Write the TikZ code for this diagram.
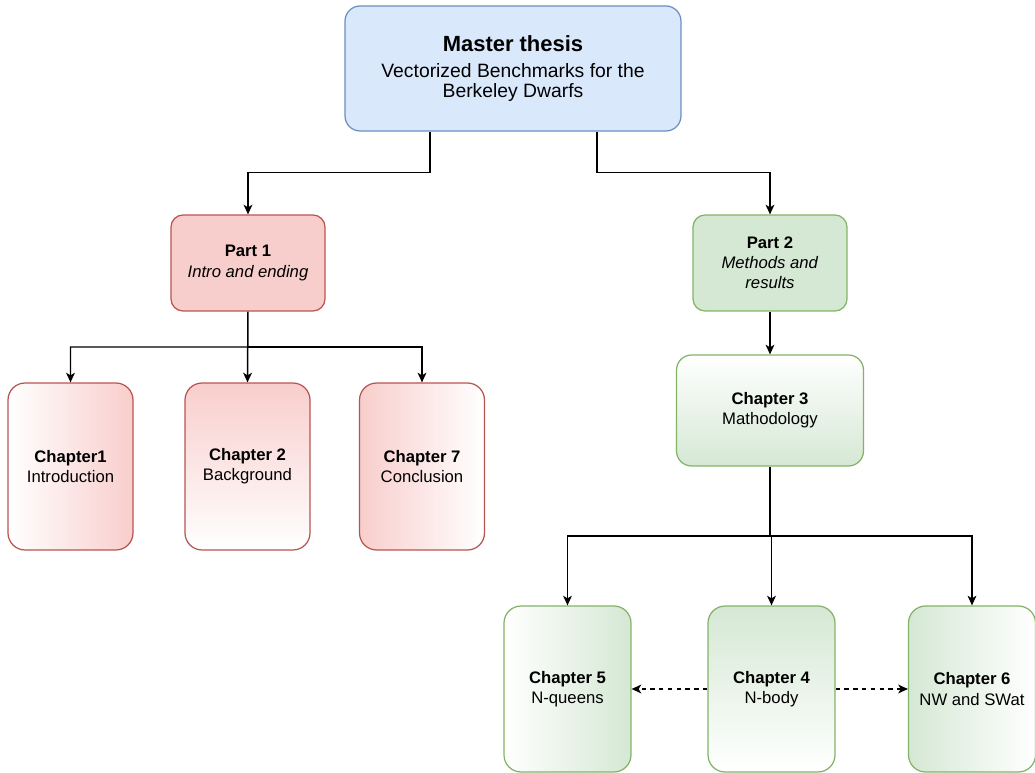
\documentclass[tikz,border=0pt]{standalone}
\usepackage{fontspec}
\setmainfont{Liberation Sans}
\usetikzlibrary{arrows.meta,calc}
\definecolor{bluefill}{HTML}{DAE8FC}
\definecolor{bluedraw}{HTML}{6C8EBF}
\definecolor{redfill}{HTML}{F8CECC}
\definecolor{reddraw}{HTML}{B85450}
\definecolor{greenfill}{HTML}{D5E8D4}
\definecolor{greendraw}{HTML}{82B366}
\tikzset{
  box/.style={rectangle, align=center, line width=0.7pt, inner sep=2pt,
    font=\fontsize{9.5}{11.5}\selectfont},
  masterbox/.style={box, draw=bluedraw, fill=bluefill, rounded corners=0.3cm,
    minimum width=6.72cm, minimum height=2.5cm, font=\fontsize{11}{11.5}\selectfont},
  partred/.style={box, draw=reddraw, fill=redfill, rounded corners=0.24cm,
    minimum width=3.08cm, minimum height=1.92cm},
  partgreen/.style={box, draw=greendraw, fill=greenfill, rounded corners=0.24cm,
    minimum width=3.08cm, minimum height=1.92cm},
  chred/.style={box, draw=reddraw, rounded corners=0.34cm,
    minimum width=2.5cm, minimum height=3.34cm},
  chgreen/.style={box, draw=greendraw, rounded corners=0.34cm,
    minimum width=2.54cm, minimum height=3.32cm},
  arr/.style={line width=0.85pt, -{Stealth[length=5.5pt,width=5pt,inset=1.5pt]}},
  dasharr/.style={arr, dash pattern=on 2.5pt off 2.5pt},
}
\begin{document}
\begin{tikzpicture}[x=0.02cm, y=-0.02cm]
\useasboundingbox (0,0) rectangle (1035,773);

\node[masterbox] (master) at (513,68.5)
  {\textbf{\fontsize{12.5}{15}\selectfont Master thesis}\\[3.5pt]
   Vectorized Benchmarks for the\\Berkeley Dwarfs};

\node[partred] (p1) at (248,263) {\textbf{Part 1}\\\textit{Intro and ending}};
\node[partgreen] (p2) at (770,263) {\textbf{Part 2}\\\textit{Methods and}\\\textit{results}};

\node[chred, left color=white, right color=redfill] (c1) at (70.5,466.5)
  {\textbf{Chapter1}\\Introduction};
\node[chred, top color=redfill, bottom color=white] (c2) at (247.5,466.5)
  {\textbf{Chapter 2}\\Background};
\node[chred, left color=redfill, right color=white] (c7) at (422,466.5)
  {\textbf{Chapter 7}\\Conclusion};

\node[box, draw=greendraw, rounded corners=0.3cm, minimum width=3.74cm,
  minimum height=2.22cm, top color=white, bottom color=greenfill] (c3) at (770,410.5)
  {\textbf{Chapter 3}\\Mathodology};

\node[chgreen, left color=white, right color=greenfill] (c5) at (567.5,689)
  {\textbf{Chapter 5}\\N-queens};
\node[chgreen, top color=greenfill, bottom color=white] (c4) at (771.5,689)
  {\textbf{Chapter 4}\\N-body};
\node[chgreen, left color=greenfill, right color=white] (c6) at (972,689)
  {\textbf{Chapter 6}\\NW and SWat};

% connectors
\draw[arr] ([xshift=-1.66cm]master.south) -- ++(0,41) -| (p1.north);
\draw[arr] ([xshift=1.68cm]master.south) -- ++(0,41) -| (p2.north);

\path (p1.south) -- (c2.north) coordinate[midway] (j1);
\draw[arr] (p1.south) -- (j1) -| (c1.north);
\draw[arr] (j1) -- (c2.north);
\draw[arr] (j1) -| (c7.north);

\draw[arr] (p2.south) -- (c3.north);

\path (c3.south) -- (c3.south |- c4.north) coordinate[midway] (j2);
\draw[arr] (c3.south) -- (j2) -| (c5.north);
\draw[arr] (j2) -| (c4.north);
\draw[arr] (j2) -| (c6.north);

\draw[dasharr] (c4.west) -- (c5.east);
\draw[dasharr] (c4.east) -- (c6.west);
\end{tikzpicture}
\end{document}
